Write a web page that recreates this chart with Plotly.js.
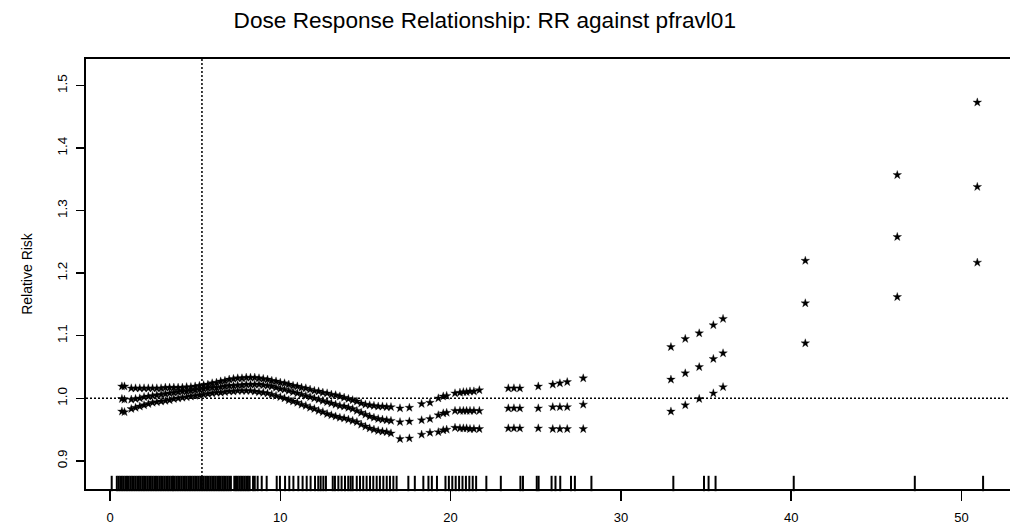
<!DOCTYPE html>
<html>
<head>
<meta charset="utf-8">
<script src="https://cdn.plot.ly/plotly-3.0.1.min.js"></script>
<style>html,body{margin:0;padding:0;background:#fff;overflow:hidden;}#chart{width:1010px;height:528px;}</style>
</head>
<body>
<div id="chart"></div>
<script>
// ---- data ----
const pointX = [0.70,0.85,
 1.25,1.50,1.75,2.00,2.25,2.50,2.75,3.00,3.25,3.50,3.75,4.00,4.25,4.50,4.75,5.00,5.25,5.50,5.75,6.00,
 6.25,6.50,6.75,7.00,7.25,7.50,7.75,8.00,8.25,8.50,8.75,9.00,9.25,9.50,9.75,10.00,10.25,10.50,10.75,11.00,
 11.25,11.50,11.75,12.00,12.25,12.50,12.75,13.00,13.25,13.50,13.75,14.00,14.25,14.50,14.75,15.00,15.25,15.50,
 15.75,16.00,16.25,16.50,
 17.03,17.58,18.30,18.79,19.28,19.57,19.77,20.26,20.55,20.75,20.94,21.14,21.37,21.69,
 23.39,23.72,24.07,25.15,26.00,26.42,26.85,27.79,
 32.94,33.78,34.60,35.43,36.00,40.83,46.23,50.93];

const upperRR = [1.019,1.019,
 1.016,1.016,1.016,1.016,1.016,1.016,1.016,1.016,1.017,1.017,1.017,1.017,1.017,1.018,1.018,1.019,1.020,1.021,1.022,1.024,
 1.025,1.027,1.028,1.030,1.031,1.032,1.032,1.033,1.033,1.033,1.032,1.031,1.030,1.028,1.027,1.025,1.024,1.022,1.020,1.019,
 1.017,1.016,1.014,1.012,1.011,1.009,1.008,1.006,1.005,1.003,1.001,0.999,0.997,0.995,0.992,0.990,0.989,0.988,
 0.987,0.987,0.986,0.986,
 0.984,0.985,0.991,0.993,1.000,1.003,1.004,1.008,1.009,1.010,1.010,1.011,1.011,1.013,
 1.016,1.016,1.016,1.019,1.022,1.024,1.026,1.032,
 1.082,1.095,1.104,1.117,1.127,1.220,1.357,1.473];

const estimateRR = [0.999,0.998,
 0.998,0.999,1.000,1.002,1.003,1.004,1.005,1.006,1.007,1.008,1.009,1.010,1.011,1.011,1.012,1.013,1.014,1.015,1.016,1.017,
 1.017,1.018,1.019,1.020,1.020,1.021,1.021,1.022,1.022,1.022,1.022,1.021,1.020,1.019,1.017,1.015,1.014,1.012,1.010,1.008,
 1.006,1.004,1.002,1.000,0.998,0.996,0.994,0.992,0.990,0.988,0.987,0.985,0.983,0.980,0.977,0.974,0.971,0.969,
 0.967,0.966,0.965,0.964,
 0.962,0.963,0.965,0.967,0.973,0.976,0.977,0.980,0.980,0.980,0.980,0.980,0.980,0.980,
 0.984,0.984,0.984,0.984,0.986,0.986,0.986,0.990,
 1.030,1.040,1.050,1.063,1.072,1.152,1.258,1.338];

const lowerRR = [0.979,0.978,
 0.983,0.985,0.987,0.989,0.991,0.993,0.994,0.995,0.996,0.997,0.999,1.000,1.001,1.002,1.003,1.004,1.005,1.006,1.007,1.008,
 1.009,1.009,1.010,1.011,1.011,1.012,1.012,1.012,1.012,1.011,1.010,1.009,1.008,1.006,1.004,1.002,1.000,0.997,0.995,0.993,
 0.990,0.988,0.985,0.983,0.980,0.978,0.975,0.973,0.971,0.969,0.968,0.966,0.964,0.962,0.958,0.955,0.952,0.950,
 0.948,0.947,0.946,0.944,
 0.935,0.936,0.942,0.945,0.946,0.949,0.950,0.953,0.952,0.952,0.952,0.951,0.951,0.951,
 0.952,0.952,0.952,0.952,0.951,0.951,0.951,0.951,
 0.979,0.989,0.999,1.008,1.018,1.088,1.162,1.217];

const rugX = [0.1,
 0.4,0.5,0.6,0.7,0.8,0.9,1.0,1.1,1.2,1.3,1.4,1.5,1.6,1.7,1.8,1.9,2.0,2.1,2.2,2.3,2.4,2.5,2.6,2.7,2.8,2.9,
 3.0,3.1,3.2,3.3,3.4,3.5,3.6,3.7,3.8,3.9,4.0,4.1,4.2,4.3,4.4,4.5,4.6,4.7,4.8,4.9,5.0,5.1,5.2,5.3,5.4,5.5,
 5.6,5.7,5.8,5.9,6.0,6.1,6.2,6.3,6.4,6.5,6.6,6.7,6.8,6.9,7.0,7.1,7.3,7.4,7.5,7.6,7.7,7.8,7.9,8.0,8.1,8.2,8.4,8.5,
 8.67,8.91,9.2,9.79,9.98,10.28,10.53,10.77,11.06,11.31,11.55,11.78,12.04,12.23,12.37,12.53,12.68,
 13.08,13.21,13.41,13.6,13.8,13.99,14.13,14.25,14.49,14.68,14.87,15.07,15.27,15.46,15.66,15.85,16.05,16.25,
 16.44,16.64,16.83,17.52,17.9,18.4,18.7,18.9,19.2,19.7,19.9,20.1,20.3,20.5,20.7,20.9,21.1,21.3,21.5,
 22.1,22.95,24.1,24.25,25.06,25.17,25.93,26.16,26.44,27.07,27.3,28.27,33.08,34.88,35.15,35.56,40.15,47.26,51.27];

const xTickVals = [0,10,20,30,40,50];
const yTickVals = [0.9,1.0,1.1,1.2,1.3,1.4,1.5];
const refX = 5.4;      // vertical reference line
const refY = 1.0;      // horizontal reference line
const titleText = "Dose Response Relationship: RR against pfravl01";
const yTitleText = "Relative Risk";

// ---- styling ----
const FONT = "Liberation Sans, Arial, Helvetica, sans-serif";
const RUG_Y = 0.8638;
const starMarker = {symbol:'star', size:6.5, color:'#000', line:{width:0.3, color:'#000'}};

function starTrace(y){
  return {x:pointX, y:y, type:'scatter', mode:'markers', marker:starMarker,
          hoverinfo:'x+y', showlegend:false, cliponaxis:false};
}

const traces = [
  starTrace(upperRR),
  starTrace(estimateRR),
  starTrace(lowerRR),
  {x:rugX, y:rugX.map(()=>RUG_Y), type:'scatter', mode:'markers',
   marker:{symbol:'line-ns', size:11, color:'#000', line:{width:2, color:'#000'}},
   hoverinfo:'x', showlegend:false, cliponaxis:false}
];

const layout = {
  width:1010, height:528,
  margin:{l:86, r:0, t:59, b:39, pad:0},
  paper_bgcolor:'#fff', plot_bgcolor:'#fff',
  font:{family:FONT, color:'#000', size:12},
  showlegend:false,
  title:{text:titleText, font:{family:FONT, size:22.6, color:'#000'},
         xref:'container', x:0.480, xanchor:'center',
         yref:'container', y:0.962, yanchor:'middle'},
  xaxis:{range:[-1.409, 52.85], tickvals:xTickVals, ticktext:xTickVals.map(String),
         showgrid:false, zeroline:false, showline:true, linewidth:2, linecolor:'#000', mirror:true,
         ticks:'outside', ticklen:10, tickwidth:1.5, tickcolor:'#000',
         tickfont:{family:FONT, size:13, color:'#000'}, ticklabelstandoff:5},
  yaxis:{range:[0.855, 1.5424], tickvals:yTickVals, ticktext:yTickVals.map(v=>v.toFixed(1)),
         showgrid:false, zeroline:false, showline:true, linewidth:2, linecolor:'#000', mirror:false,
         ticks:'outside', ticklen:8, tickwidth:1.5, tickcolor:'#000', tickangle:-90,
         tickfont:{family:FONT, size:13.5, color:'#000'}, ticklabelstandoff:4,
         title:{text:yTitleText, font:{family:FONT, size:14, color:'#000'}, standoff:19}},
  shapes:[
    {type:'line', xref:'x', yref:'paper', x0:refX, x1:refX, y0:0, y1:1,
     line:{color:'#000', width:1.5, dash:'2px,2px'}},
    {type:'line', xref:'paper', yref:'y', x0:0, x1:1, y0:refY, y1:refY,
     line:{color:'#000', width:1.5, dash:'2px,2px'}}
  ]
};

Plotly.newPlot('chart', traces, layout, {displayModeBar:false, staticPlot:true});
</script>
</body>
</html>
